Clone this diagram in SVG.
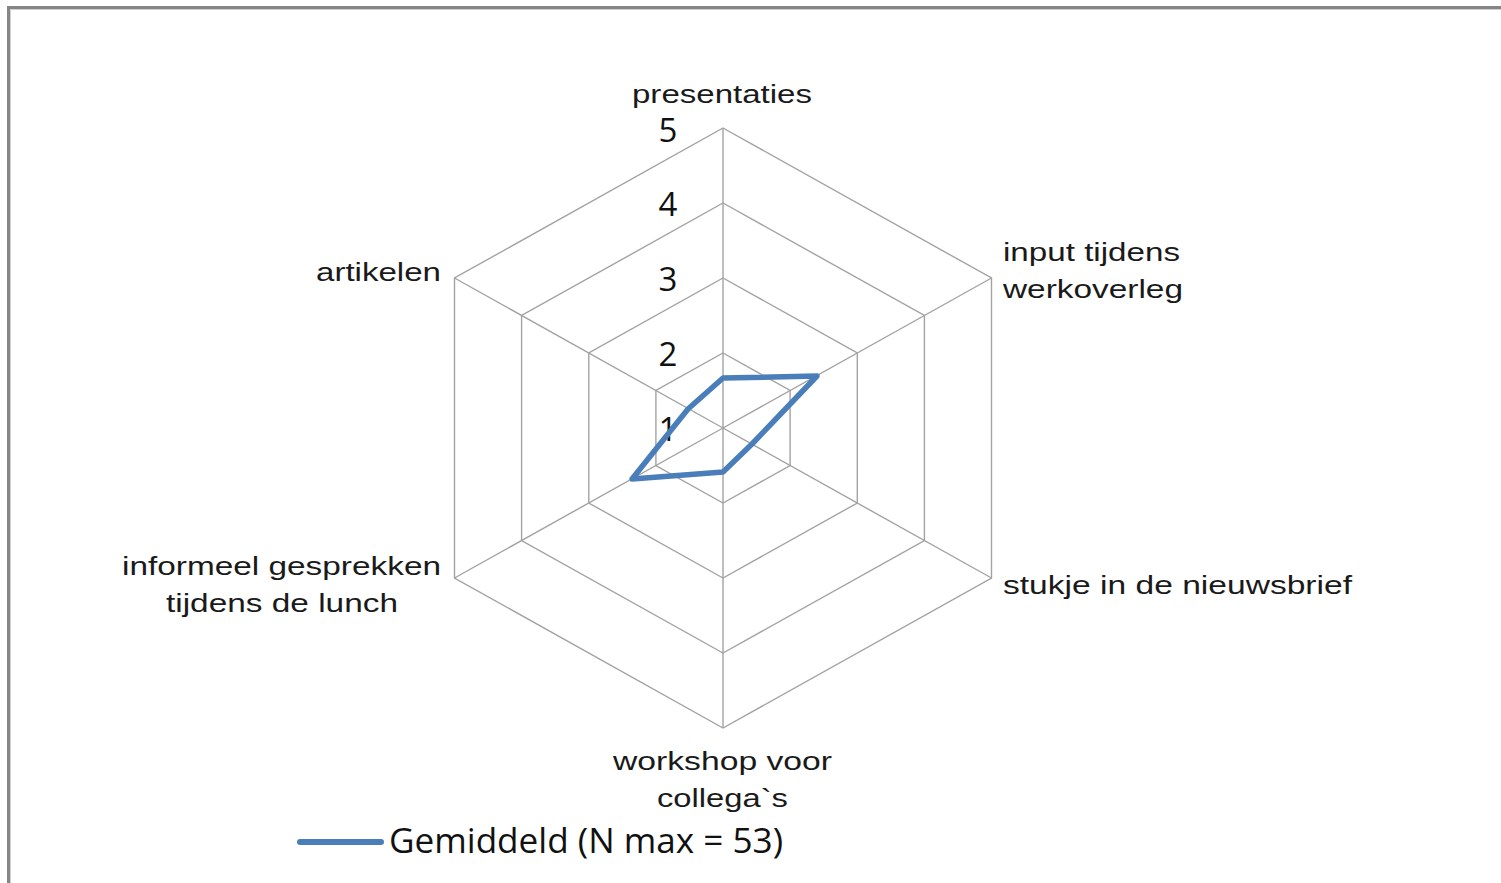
<svg xmlns="http://www.w3.org/2000/svg" width="1501" height="883" viewBox="0 0 1501 883">
<style>
.grid{fill:none;stroke:#a3a3a3;stroke-width:1.4}
.cat{font-family:"Liberation Sans",Arial,sans-serif;font-size:26px;fill:#1a1a1a}
.num{font-family:"Open Sans","Liberation Sans",sans-serif;font-size:33px;fill:#111;text-anchor:middle}
.leg{font-family:"Open Sans","Liberation Sans",sans-serif;font-size:35px;fill:#111}
.series{fill:none;stroke:#4a7ebb;stroke-width:5.5;stroke-linejoin:round;stroke-linecap:round}
</style>
<rect width="1501" height="883" fill="#fff"/>
<g id="frame">
<path d="M8.5,883 V7.5 H1501" fill="none" stroke="#868686" stroke-width="3"/>
<path d="M10.5,883 V9.5 H1501" fill="none" stroke="#cfcfcf" stroke-width="1"/>
</g>
<g id="grid">
<polygon class="grid" points="723,128 991.5,278 991.5,578 723,728 454.5,578 454.5,278"/>
<polygon class="grid" points="723,203 924.4,315.5 924.4,540.5 723,653 521.6,540.5 521.6,315.5"/>
<polygon class="grid" points="723,278 857.3,353 857.3,503 723,578 588.8,503 588.8,353"/>
<polygon class="grid" points="723,353 790.1,390.5 790.1,465.5 723,503 655.9,465.5 655.9,390.5"/>
<path class="grid" d="M723,428 V128 M723,428 L991.5,278 M723,428 L991.5,578 M723,428 V728 M723,428 L454.5,578 M723,428 L454.5,278"/>
</g>
<g id="axis-values">
<text class="num" x="668" y="142">5</text>
<text class="num" x="668" y="216">4</text>
<text class="num" x="668" y="291">3</text>
<text class="num" x="668" y="366">2</text>
<text class="num" x="668" y="441">1</text>
</g>
<g id="connectors">
<polygon id="series-gemiddeld" class="series" points="723,378 817,376 752,444 723,472 632,479 688,409"/>
</g>
<g id="label-presentaties"><text class="cat" x="632" y="103" textLength="180" lengthAdjust="spacingAndGlyphs">presentaties</text></g>
<g id="label-input"><text class="cat" x="1003" y="261" textLength="177" lengthAdjust="spacingAndGlyphs">input tijdens</text><text class="cat" x="1003" y="298" textLength="180" lengthAdjust="spacingAndGlyphs">werkoverleg</text></g>
<g id="label-stukje"><text class="cat" x="1003" y="594" textLength="349" lengthAdjust="spacingAndGlyphs">stukje in de nieuwsbrief</text></g>
<g id="label-workshop"><text class="cat" x="613" y="770" textLength="219" lengthAdjust="spacingAndGlyphs">workshop voor</text><text class="cat" x="657" y="807" textLength="131" lengthAdjust="spacingAndGlyphs">collega`s</text></g>
<g id="label-informeel"><text class="cat" x="122" y="575" textLength="319" lengthAdjust="spacingAndGlyphs">informeel gesprekken</text><text class="cat" x="166" y="612" textLength="232" lengthAdjust="spacingAndGlyphs">tijdens de lunch</text></g>
<g id="label-artikelen"><text class="cat" x="316" y="281" textLength="125" lengthAdjust="spacingAndGlyphs">artikelen</text></g>
<g id="legend">
<line x1="300" y1="842" x2="381" y2="842" stroke="#4a7ebb" stroke-width="6" stroke-linecap="round"/>
<text class="leg" x="389" y="853" textLength="394" lengthAdjust="spacingAndGlyphs">Gemiddeld (N max = 53)</text>
</g>
</svg>
